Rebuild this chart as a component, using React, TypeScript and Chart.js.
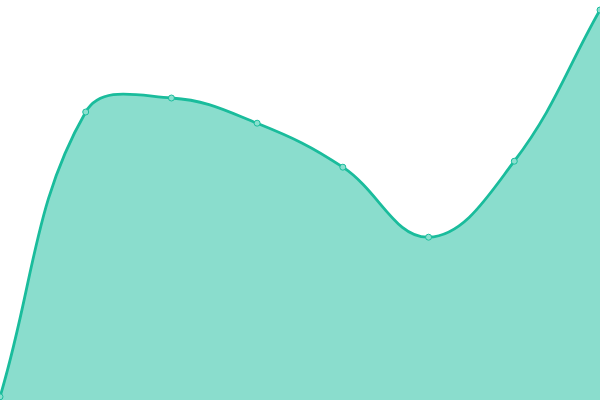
import { useEffect, useRef } from "react";
import Chart from "chart.js/auto";

const labels = ["1", "2", "3", "4", "5", "6", "7", "8"];
const values = [0.8, 72, 75.5, 69.2, 58.2, 40.7, 59.7, 97.5];

export default function App() {
  const chartRef = useRef<HTMLCanvasElement>(null);

  useEffect(() => {
    if (!chartRef.current) return;
    const ctx = chartRef.current.getContext("2d");
    if (!ctx) return;

    const chart = new Chart(ctx, {
      type: "line",
      data: {
        labels,
        datasets: [
          {
            data: values,
            fill: true,
            backgroundColor: "rgba(26, 188, 156, 0.51)",
            borderColor: "#1abc9c",
            borderWidth: 2.8,
            tension: 0.4,
            pointRadius: 3,
            pointBorderWidth: 1,
            pointBackgroundColor: "#8ae0cf",
            pointBorderColor: "#1abc9c",
          },
        ],
      },
      options: {
        responsive: true,
        maintainAspectRatio: false,
        animation: false,
        layout: { padding: 0, autoPadding: false },
        plugins: {
          legend: { display: false },
          tooltip: { enabled: false },
        },
        scales: {
          x: { display: false },
          y: { display: false, min: 0, max: 100 },
        },
      },
    });

    return () => chart.destroy();
  }, []);

  return (
    <div style={{ position: "fixed", left: 0, top: 0, width: 600, height: 400 }}>
      <canvas ref={chartRef} />
    </div>
  );
}
